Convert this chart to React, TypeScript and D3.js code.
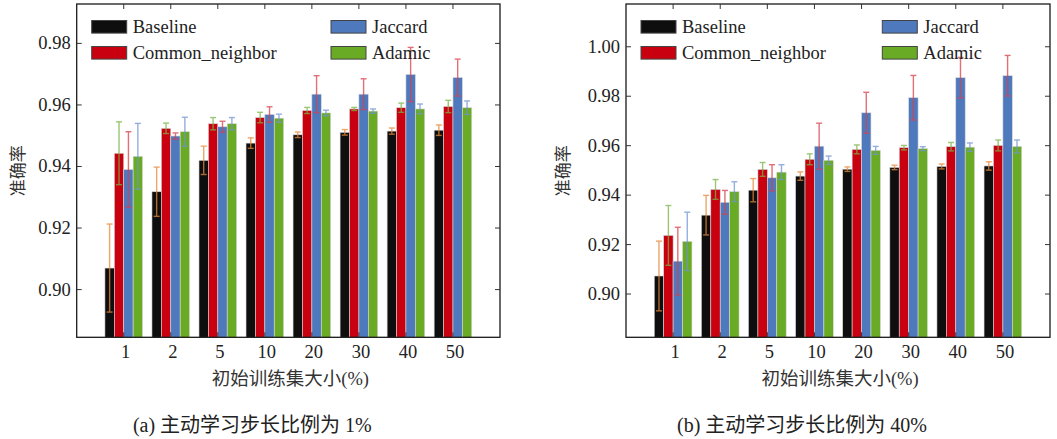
import { useRef, useEffect } from "react";
import * as d3 from "d3";

const categories = ["1", "2", "5", "10", "20", "30", "40", "50"];
const seriesNames = ["Baseline", "Common_neighbor", "Jaccard", "Adamic"];
const barColors = ["#0e0e0e", "#c9000f", "#4f79bd", "#69ab24"];
const errColors = ["#e6883a", "#79b548", "#d8404c", "#7393d2"];

// (a) step 1%
const baselineA = [0.907, 0.9318, 0.942, 0.9476, 0.9503, 0.9511, 0.9515, 0.9518];
const baselineErrA = [0.0143, 0.008, 0.0046, 0.0017, 0.0009, 0.0009, 0.001, 0.0017];
const cnA = [0.9443, 0.9524, 0.9539, 0.9559, 0.9582, 0.9587, 0.9591, 0.9595];
const cnErrA = [0.0102, 0.0017, 0.002, 0.0017, 0.001, 0.0005, 0.0015, 0.002];
const jacA = [0.939, 0.9499, 0.9529, 0.9569, 0.9635, 0.9635, 0.9699, 0.9689];
const jacErrA = [0.0123, 0.001, 0.0018, 0.0025, 0.006, 0.005, 0.0088, 0.006];
const adA = [0.9433, 0.9513, 0.9539, 0.9557, 0.9574, 0.958, 0.9587, 0.9591];
const adErrA = [0.0107, 0.0047, 0.002, 0.0013, 0.0009, 0.0007, 0.0016, 0.0022];

// (b) step 40%
const baselineB = [0.9073, 0.9319, 0.942, 0.9477, 0.9505, 0.9512, 0.9516, 0.9518];
const baselineErrB = [0.0141, 0.008, 0.0047, 0.0017, 0.0009, 0.0009, 0.001, 0.0017];
const cnB = [0.9237, 0.9423, 0.9504, 0.9545, 0.9585, 0.9592, 0.9596, 0.9601];
const cnErrB = [0.0121, 0.004, 0.0028, 0.0022, 0.0018, 0.0009, 0.0017, 0.0022];
const jacB = [0.9133, 0.9371, 0.947, 0.9598, 0.9733, 0.9794, 0.9875, 0.9883];
const jacErrB = [0.0137, 0.0048, 0.0053, 0.0093, 0.0083, 0.009, 0.0082, 0.0082];
const adB = [0.9213, 0.9414, 0.9493, 0.9541, 0.9581, 0.9588, 0.9594, 0.9597];
const adErrB = [0.0118, 0.004, 0.003, 0.0017, 0.0016, 0.0008, 0.0017, 0.0026];

const yTicksA = [0.9, 0.92, 0.94, 0.96, 0.98];
const yTicksB = [0.9, 0.92, 0.94, 0.96, 0.98, 1.0];

const yLabel = "准确率";
const xLabel = "初始训练集大小(%)";
const captionA = "(a)  主动学习步长比例为 1%";
const captionB = "(b)  主动学习步长比例为 40%";

const FONT = "'Liberation Serif', 'Times New Roman', 'Noto Sans CJK SC', serif";
const CJK = "'Noto Sans CJK SC', sans-serif";

interface PanelSpec {
  left: number;
  right: number;
  top: number;
  bottom: number;
  yDomain: [number, number];
  yTicks: number[];
  means: number[][];
  errs: number[][];
  caption: string;
  yLabelX: number;
  legendCol2: number;
}

function drawPanel(svg: d3.Selection<SVGSVGElement, unknown, null, undefined>, p: PanelSpec) {
  const g = svg.append("g");
  const x = d3.scaleLinear().domain([0, categories.length + 1]).range([p.left, p.right]);
  const y = d3.scaleLinear().domain(p.yDomain).range([p.bottom, p.top]);
  const unit = x(1) - x(0);
  const barW = unit * 0.2;

  // bars
  p.means.forEach((vals, si) => {
    vals.forEach((v, ci) => {
      const cx = x(ci + 1) + (si - 2) * barW;
      g.append("rect")
        .attr("x", cx)
        .attr("y", y(v))
        .attr("width", barW)
        .attr("height", p.bottom - y(v))
        .attr("fill", barColors[si])
        .attr("stroke", "#d8d8d8")
        .attr("stroke-width", 0.6);
    });
  });

  // error bars
  p.means.forEach((vals, si) => {
    vals.forEach((v, ci) => {
      const e = p.errs[si][ci];
      const cx = x(ci + 1) + (si - 2) * barW + barW / 2;
      const eg = g.append("g").attr("stroke", errColors[si]).attr("stroke-width", 1.4).attr("opacity", 0.75);
      eg.append("line").attr("x1", cx).attr("x2", cx).attr("y1", y(v - e)).attr("y2", y(v + e));
      [v - e, v + e].forEach((t) => {
        eg.append("line").attr("x1", cx - 3).attr("x2", cx + 3).attr("y1", y(t)).attr("y2", y(t));
      });
    });
  });

  // box
  g.append("rect")
    .attr("x", p.left)
    .attr("y", p.top)
    .attr("width", p.right - p.left)
    .attr("height", p.bottom - p.top)
    .attr("fill", "none")
    .attr("stroke", "#1a1a1a")
    .attr("stroke-width", 1.3);

  // y ticks (inward, both sides)
  p.yTicks.forEach((t) => {
    const ty = y(t);
    g.append("line").attr("x1", p.left).attr("x2", p.left + 5).attr("y1", ty).attr("y2", ty).attr("stroke", "#333");
    g.append("line").attr("x1", p.right).attr("x2", p.right - 5).attr("y1", ty).attr("y2", ty).attr("stroke", "#333");
    g.append("text")
      .attr("x", p.left - 6)
      .attr("y", ty + 6)
      .attr("text-anchor", "end")
      .attr("font-family", FONT)
      .attr("font-size", "18.5px")
      .attr("fill", "#222")
      .text(d3.format(".2f")(t));
  });

  // x ticks
  categories.forEach((c, ci) => {
    const tx = x(ci + 1);
    g.append("line").attr("x1", tx).attr("x2", tx).attr("y1", p.top).attr("y2", p.top + 5).attr("stroke", "#333");
    g.append("line").attr("x1", tx).attr("x2", tx).attr("y1", p.bottom).attr("y2", p.bottom - 5).attr("stroke", "#333");
    g.append("text")
      .attr("x", tx + 2)
      .attr("y", p.bottom + 21)
      .attr("text-anchor", "middle")
      .attr("font-family", FONT)
      .attr("font-size", "18.5px")
      .attr("fill", "#222")
      .text(c);
  });

  // axis titles
  g.append("text")
    .attr("x", (p.left + p.right) / 2 + 2)
    .attr("y", p.bottom + 48)
    .attr("text-anchor", "middle")
    .attr("font-family", FONT)
    .attr("font-size", "18.5px")
    .attr("fill", "#333")
    .text(xLabel);

  g.append("text")
    .attr("transform", `translate(${p.yLabelX},${(p.top + p.bottom) / 2}) rotate(-90)`)
    .attr("text-anchor", "middle")
    .attr("font-family", CJK)
    .attr("font-size", "17px")
    .attr("fill", "#333")
    .text(yLabel);

  g.append("text")
    .attr("x", (p.left + p.right) / 2 - 36)
    .attr("y", 432)
    .attr("text-anchor", "middle")
    .attr("font-family", FONT)
    .attr("font-size", "20px")
    .attr("fill", "#222")
    .text(p.caption);

  // legend
  const legendCols = [p.left + 15, p.legendCol2];
  seriesNames.forEach((name, si) => {
    const lx = legendCols[Math.floor(si / 2)];
    const ly = 20.5 + (si % 2) * 26;
    g.append("rect")
      .attr("x", lx)
      .attr("y", ly)
      .attr("width", 35)
      .attr("height", 12.6)
      .attr("fill", barColors[si])
      .attr("stroke", "#444")
      .attr("stroke-width", 1);
    g.append("text")
      .attr("x", lx + 41)
      .attr("y", ly + 12.5)
      .attr("font-family", FONT)
      .attr("font-size", "18.5px")
      .attr("fill", "#222")
      .text(name);
  });
}

export default function App() {
  const svgRef = useRef<SVGSVGElement>(null);

  useEffect(() => {
    if (!svgRef.current) return;
    const svg = d3.select(svgRef.current);
    svg.selectAll("*").remove();

    drawPanel(svg, {
      left: 76.7,
      right: 500,
      top: 4,
      bottom: 337.3,
      yDomain: [0.8845, 0.9928],
      yTicks: yTicksA,
      means: [baselineA, cnA, jacA, adA],
      errs: [baselineErrA, cnErrA, jacErrA, adErrA],
      caption: captionA,
      yLabelX: 24,
      legendCol2: 331,
    });

    drawPanel(svg, {
      left: 626,
      right: 1050,
      top: 4,
      bottom: 337.3,
      yDomain: [0.8825, 1.0173],
      yTicks: yTicksB,
      means: [baselineB, cnB, jacB, adB],
      errs: [baselineErrB, cnErrB, jacErrB, adErrB],
      caption: captionB,
      yLabelX: 569,
      legendCol2: 882.3,
    });
  }, []);

  return (
    <div style={{ position: "absolute", left: 0, top: 0 }}>
      <svg ref={svgRef} width={1057} height={439} style={{ display: "block", background: "#fff" }} />
    </div>
  );
}
